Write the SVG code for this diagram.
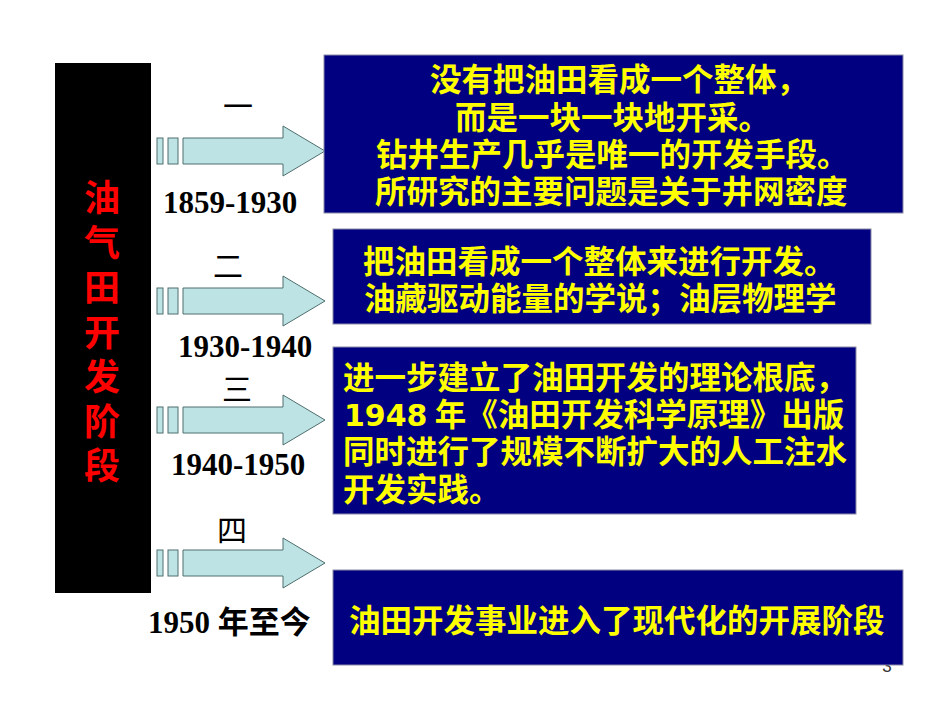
<svg xmlns="http://www.w3.org/2000/svg" width="950" height="713" viewBox="0 0 950 713">
<defs>
<style>
.box{fill:#000080;stroke:#8a8aa8;stroke-width:1}
.bt{font-family:"Noto Sans CJK SC","Liberation Sans",sans-serif;font-weight:bold;font-size:31.5px;fill:#FFFF00}
.num{font-family:"DejaVu Sans","Liberation Sans",sans-serif;font-weight:bold;font-size:30px}
.date{font-family:"Liberation Serif","Times New Roman",serif;font-weight:bold;font-size:31px;fill:#000}
.cjk{font-family:"Noto Sans CJK SC",sans-serif}
.ord{font-family:"Noto Sans CJK SC",sans-serif;font-weight:normal;font-size:30px;fill:#000;text-anchor:middle}
.arr{fill:#BEE3E5;stroke:#4F6E6E;stroke-width:1}
.side{font-family:"Noto Sans CJK SC",sans-serif;font-weight:bold;font-size:36px;fill:#FF0000;text-anchor:middle}
</style>
<g id="arrowShape">
<rect class="arr" x="157" y="-13" width="6" height="26"/>
<rect class="arr" x="168" y="-13" width="10" height="26"/>
<path class="arr" d="M183,-13 H283 V-25 L325,0 L283,25 V13 H183 Z"/>
</g>
</defs>
<rect width="950" height="713" fill="#fff"/>

<g id="side-bar">
<rect x="55" y="63" width="96" height="530" fill="#000"/>
<text class="side" x="102" y="211">油</text>
<text class="side" x="102" y="256">气</text>
<text class="side" x="102" y="301">田</text>
<text class="side" x="102" y="346">开</text>
<text class="side" x="102" y="390">发</text>
<text class="side" x="102" y="435">阶</text>
<text class="side" x="102" y="479">段</text>
</g>

<g id="connectors">
<use href="#arrowShape" transform="translate(0,151)"/>
<use href="#arrowShape" transform="translate(0,301)"/>
<use href="#arrowShape" transform="translate(0,420)"/>
<use href="#arrowShape" transform="translate(0,563)"/>
</g>

<g id="stage1-label">
<text class="ord" x="238" y="117">一</text>
<text class="date" x="163" y="213">1859-1930</text>
</g>
<g id="stage2-label">
<text class="ord" x="228" y="277">二</text>
<text class="date" x="178" y="357">1930-1940</text>
</g>
<g id="stage3-label">
<text class="ord" x="237" y="400">三</text>
<text class="date" x="171" y="475">1940-1950</text>
</g>
<g id="stage4-label">
<text class="ord" x="232" y="541">四</text>
<text class="date" x="148" y="633">1950 <tspan class="cjk">年至今</tspan></text>
</g>

<g id="box1">
<rect class="box" x="324" y="55" width="579" height="158"/>
<text class="bt">
<tspan x="430" y="91">没有把油田看成一个整体，</tspan>
<tspan x="455" y="129">而是一块一块地开采。</tspan>
<tspan x="376" y="166">钻井生产几乎是唯一的开发手段。</tspan>
<tspan x="375" y="203">所研究的主要问题是关于井网密度</tspan>
</text>
</g>

<g id="box2">
<rect class="box" x="333" y="229" width="538" height="95"/>
<text class="bt">
<tspan x="363" y="273">把油田看成一个整体来进行开发。</tspan>
<tspan x="364" y="310">油藏驱动能量的学说；油层物理学</tspan>
</text>
</g>

<g id="box3">
<rect class="box" x="333" y="347" width="523" height="167"/>
<text class="bt">
<tspan x="343" y="389">进一步建立了油田开发的理论根底，</tspan>
<tspan x="344" y="426"><tspan class="num">1948</tspan> 年《油田开发科学原理》出版</tspan>
<tspan x="343" y="463">同时进行了规模不断扩大的人工注水</tspan>
<tspan x="343" y="501">开发实践。</tspan>
</text>
</g>

<text x="887" y="672" font-family="Liberation Sans,Arial,sans-serif" font-size="17" fill="#333" text-anchor="middle">3</text>

<g id="box4">
<rect class="box" x="333" y="570" width="570" height="95"/>
<text class="bt" x="349" y="632">油田开发事业进入了现代化的开展阶段</text>
</g>
</svg>
